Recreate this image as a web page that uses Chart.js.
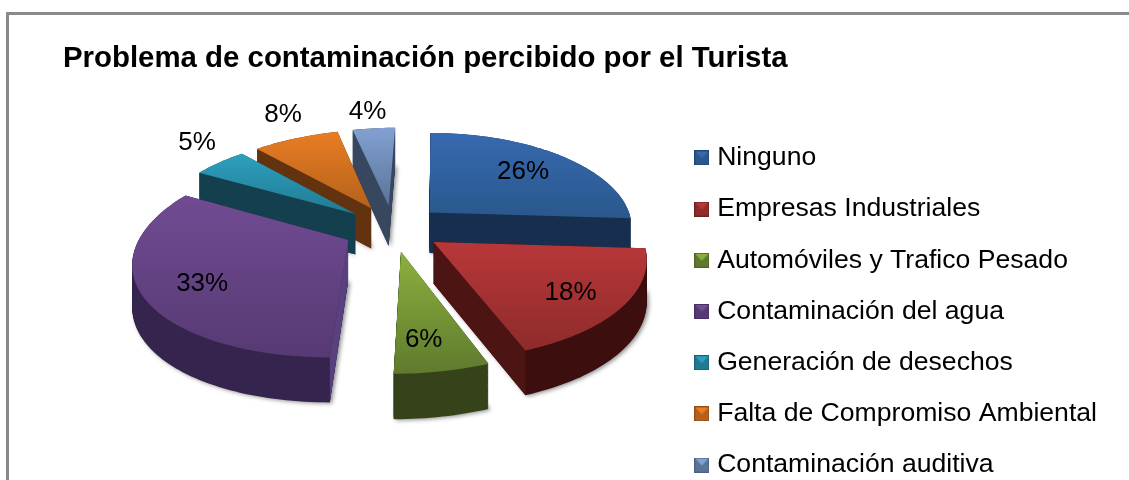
<!DOCTYPE html>
<html><head><meta charset="utf-8">
<style>
html,body{margin:0;padding:0;background:#fff;width:1129px;height:480px;overflow:hidden}
#wrap{position:absolute;left:0;top:0;width:1129px;height:480px}
#frame{position:absolute;left:6px;top:12px;width:1123px;height:468px;border-left:3px solid #8a8a8a;border-top:3px solid #8a8a8a;box-sizing:border-box}
</style>
<script src="https://cdn.jsdelivr.net/npm/chart.js@4"></script>
</head><body>
<div id="wrap"><div id="frame"></div><canvas id="c" width="1129" height="480"></canvas></div>
<script>
const categories = ["Ninguno","Empresas Industriales","Automóviles y Trafico Pesado","Contaminación del agua","Generación de desechos","Falta de Compromiso Ambiental","Contaminación auditiva"];
const values = [26,18,6,33,5,8,4];
const titleText = "Problema de contaminación percibido por el Turista";
const topLight = ["#3669b0","#b83739","#8cb03e","#714b93","#2da0bf","#e87d23","#82a1d2"];
const topDark  = ["#2a588c","#8f2b2b","#5f7a2e","#563a73","#217a92","#b5611b","#5a7397"];
const rimColor = ["#172e4e","#3c0e0d","#36431a","#35244e","#123f4e","#5f2f0d","#36465e"];
const cutColor = ["#172e4e","#4c1514","#36431a","#59407f","#143f4e","#63320e","#37475f"];
const labelFactor = [0.62,0.68,0.62,0.68,1.16,1.12,1.1];
const labelNudgeX = [9,13,-1,-10,-3,-5,-5];
const labelNudgeY = [-4,8,19,7,-12,-16,-10];
const explode = 50, radius = 205;

const P = {cx:393, cy:228, s:0.467, k:0.15, kx:0.17, vx:435, depth:41};
function project(px,py){
  const f = 1/(1-P.k*py/radius), fx = 1/(1-P.kx*py/radius);
  return {x:P.vx+(P.cx+px-P.vx)*fx, y:P.cy+P.s*py*f, d:P.depth*Math.sqrt(f)};
}
function sliceGeometry(arc){
  const a0=arc.startAngle,a1=arc.endAngle,mid=(a0+a1)/2,o=arc.options.offset,R=arc.outerRadius;
  const ox=Math.cos(mid)*o, oy=Math.sin(mid)*o, pts=[project(ox,oy)];
  const n=Math.max(8,Math.ceil((a1-a0)*40));
  for(let i=0;i<=n;i++){const a=a0+(a1-a0)*i/n;pts.push(project(ox+Math.cos(a)*R,oy+Math.sin(a)*R));}
  return {pts,mid,ox,oy,R};
}
function tracePts(ctx,pts,t){
  ctx.beginPath();
  pts.forEach((p,i)=>{const y=p.y+p.d*t; i?ctx.lineTo(p.x,y):ctx.moveTo(p.x,y);});
  ctx.closePath();
}
function cutWall(ctx,a,b,color){
  ctx.fillStyle=color;ctx.beginPath();
  ctx.moveTo(a.x,a.y);ctx.lineTo(b.x,b.y);ctx.lineTo(b.x,b.y+b.d);ctx.lineTo(a.x,a.y+a.d);ctx.closePath();ctx.fill();
}
const pie3d = {
  id:'pie3d',
  beforeDatasetsDraw(chart){
    const ctx=chart.ctx, arcs=chart.getDatasetMeta(0).data;
    const order=arcs.map((a,i)=>i).sort((i,j)=>Math.sin((arcs[i].startAngle+arcs[i].endAngle)/2)-Math.sin((arcs[j].startAngle+arcs[j].endAngle)/2));
    order.forEach(i=>{
      const {pts}=sliceGeometry(arcs[i]);
      ctx.save();
      ctx.shadowColor='rgba(0,0,0,0.45)';ctx.shadowBlur=4;ctx.shadowOffsetX=2;ctx.shadowOffsetY=1;
      ctx.fillStyle=rimColor[i];
      tracePts(ctx,pts,1);ctx.fill();
      ctx.restore();
      ctx.fillStyle=rimColor[i];
      for(let t=0;t<=1;t+=0.02){tracePts(ctx,pts,t);ctx.fill();}
      const tip=pts[0],st=pts[1],en=pts[pts.length-1];
      const area=(a,b)=>{const bx=b.x-a.x;return bx*b.d+bx*a.d;};
      if(area(tip,st)<0)cutWall(ctx,tip,st,cutColor[i]);
      if(area(tip,en)>0)cutWall(ctx,tip,en,cutColor[i]);
      const ys=pts.map(p=>p.y),g=ctx.createLinearGradient(0,Math.min(...ys),0,Math.max(...ys));
      g.addColorStop(0,topLight[i]);g.addColorStop(1,topDark[i]);
      ctx.fillStyle=g;tracePts(ctx,pts,0);ctx.fill();
    });
    ctx.save();
    ctx.fillStyle='#000';ctx.font='26px "Liberation Sans"';ctx.textAlign='center';ctx.textBaseline='middle';
    arcs.forEach((arc,i)=>{
      const {mid,ox,oy,R}=sliceGeometry(arc),q=labelFactor[i]*R;
      const p=project(ox+Math.cos(mid)*q,oy+Math.sin(mid)*q);
      ctx.fillText(values[i]+'%',p.x+labelNudgeX[i],p.y+labelNudgeY[i]);
    });
    ctx.restore();
    return false;
  }
};
function bevelIcon(i){
  const c=document.createElement('canvas');c.width=15;c.height=15;
  const x=c.getContext('2d');
  x.fillStyle=topDark[i];x.fillRect(0,0,15,15);
  x.fillStyle=topLight[i];x.beginPath();x.moveTo(1,1);x.lineTo(14,1);x.lineTo(7.5,8);x.closePath();x.fill();
  x.strokeStyle=rimColor[i];x.globalAlpha=0.4;x.strokeRect(.5,.5,14,14);
  return c;
}
const icons=categories.map((t,i)=>bevelIcon(i));
new Chart(document.getElementById('c'),{
  type:'pie',
  data:{labels:categories,datasets:[{data:values,backgroundColor:topLight,borderWidth:0,offset:explode,radius:radius}]},
  options:{
    responsive:false,animation:false,
    layout:{padding:{left:63,right:22,top:0,bottom:-23}},
    plugins:{
      tooltip:{enabled:false},
      title:{display:true,text:titleText,align:'start',color:'#000',font:{family:'"Liberation Sans"',size:29.4,weight:'bold'},padding:{top:41,bottom:-75}},
      legend:{position:'right',align:'end',labels:{
        color:'#000',font:{family:'"Liberation Sans"',size:26.6},padding:24.6,usePointStyle:true,pointStyleWidth:4,
        generateLabels:()=>categories.map((t,i)=>({text:t,pointStyle:icons[i],fillStyle:topLight[i],strokeStyle:topLight[i],lineWidth:0,hidden:false,index:i}))
      }}
    }
  },
  plugins:[pie3d]
});
</script>
</body></html>
